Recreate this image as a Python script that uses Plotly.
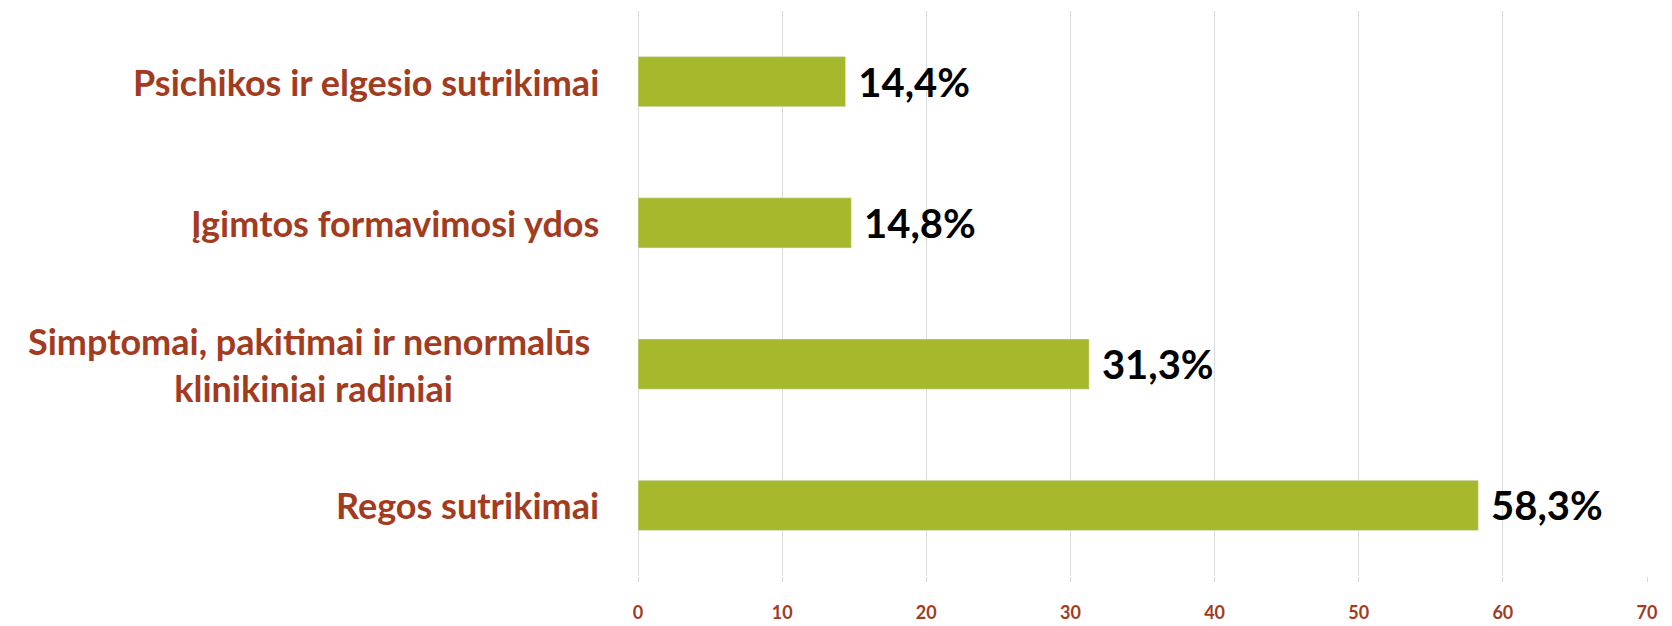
import plotly.graph_objects as go

# kategorijos (iš viršaus į apačią) ir reikšmės, %
categories = [
    "Psichikos ir elgesio sutrikimai",
    "Įgimtos formavimosi ydos",
    "Simptomai, pakitimai ir nenormalūs <br>klinikiniai radiniai",
    "Regos sutrikimai",
]
values = [14.4, 14.8, 31.3, 58.3]
x_ticks = [0, 10, 20, 30, 40, 50, 60, 70]

label_color = "#A33B1F"
bar_color = "#A8B82C"
grid_color = "#D9D9D9"

fig = go.Figure()

fig.add_trace(go.Bar(
    x=values,
    y=categories,
    orientation="h",
    marker_color=bar_color,
    width=0.355,
    texttemplate=" %{x:.1f}%",
    textposition="outside",
    textfont=dict(family="Lato", size=40, color="black", weight="bold"),
    constraintext="none",
    cliponaxis=False,
    hoverinfo="skip",
))

# kategorijų pavadinimai (centruojami kelių eilučių tekstai)
for cat in categories:
    fig.add_annotation(
        x=0, xref="paper", y=cat, yref="y",
        text=cat, showarrow=False,
        xanchor="right", xshift=-37, align="center",
        font=dict(family="Lato", size=36, color=label_color, weight="bold"),
    )

# puslapio <body> turi 8 px paraštę, todėl figūra 8 px mažesnė
fig.update_layout(
    width=1664, height=618,
    margin=dict(l=630, r=25, t=3, b=50),
    plot_bgcolor="white",
    paper_bgcolor="white",
    separators=", ",
    showlegend=False,
)

fig.update_xaxes(
    range=[0, 70],
    tickvals=x_ticks,
    automargin=False,
    showgrid=True, gridcolor=grid_color, gridwidth=1,
    zeroline=True, zerolinecolor=grid_color, zerolinewidth=1,
    showline=False,
    ticks="outside", ticklen=5, tickcolor=grid_color,
    ticklabelstandoff=15,
    tickfont=dict(family="Lato", size=18, color=label_color, weight="bold"),
)

fig.update_yaxes(
    categoryorder="array", categoryarray=categories,
    autorange="reversed",
    automargin=False,
    showticklabels=False,
    showgrid=False, showline=False, zeroline=False,
)

fig.write_html("out.html")
